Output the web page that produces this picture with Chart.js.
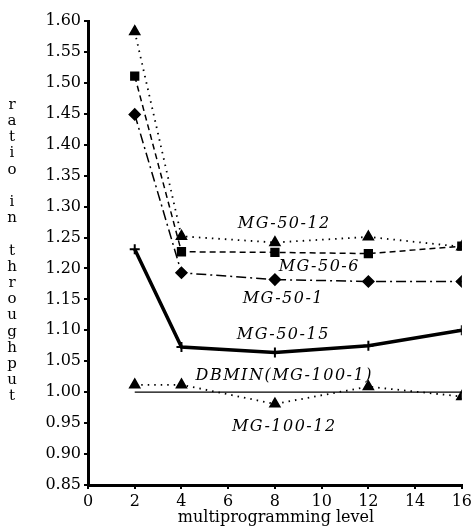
<!DOCTYPE html>
<html>
<head>
<meta charset="utf-8">
<script src="https://cdn.jsdelivr.net/npm/chart.js@4"></script>
<style>
  html, body { margin: 0; padding: 0; background: #fff; }
</style>
</head>
<body>
<canvas id="chart" width="475" height="529"></canvas>
<script>
// multiprogramming levels
var levels = [2, 4, 8, 12, 16];

// ratio in throughput per series
var mg50_12 = [1.583, 1.252, 1.242, 1.251, 1.235];
var mg50_6 = [1.511, 1.227, 1.226, 1.224, 1.236];
var mg50_1 = [1.449, 1.193, 1.182, 1.179, 1.179];
var mg50_15 = [1.231, 1.073, 1.064, 1.075, 1.100];
var dbmin = [1.0, 1.0, 1.0, 1.0, 1.0];
var mg100_12 = [1.012, 1.012, 0.981, 1.009, 0.993];

var seriesNames = ["MG-50-12", "MG-50-6", "MG-50-1", "MG-50-15", "DBMIN(MG-100-1)", "MG-100-12"];
// label anchors in data units (x level, y ratio)
var labelX = [8.4, 9.9, 8.36, 8.36, 8.4, 8.4];
var labelY = [1.272, 1.203, 1.151, 1.093, 1.027, 0.944];

var yTitle = "ratio in throughput";
var xTitle = "multiprogramming level";

function pts(vals) {
   return levels.map((x, i) => ({ x: x, y: vals[i] }));
}

var serif = "'DejaVu Serif', 'Liberation Serif', serif";

// text labels on the curves and the stacked y title
var textPlugin = {
   id: "texts",
   afterDraw(chart) {
      var ctx = chart.ctx;
      var xs = chart.scales.x, ys = chart.scales.y;
      ctx.save();
      ctx.fillStyle = "#000";
      ctx.textAlign = "center";
      ctx.textBaseline = "middle";
      ctx.font = "italic 16px " + serif;
      if ("letterSpacing" in ctx) ctx.letterSpacing = "1.5px";
      seriesNames.forEach((name, i) => {
         ctx.fillText(name, xs.getPixelForValue(labelX[i]), ys.getPixelForValue(labelY[i]));
      });
      if ("letterSpacing" in ctx) ctx.letterSpacing = "0px";
      ctx.font = "15px " + serif;
      for (var i = 0; i < yTitle.length; i++) {
         ctx.fillText(yTitle[i], 12, 105 + i * 16.2);
      }
      ctx.font = "16px " + serif;
      ctx.fillText(xTitle, 276, 518);
      ctx.restore();
   },
};

var chart = new Chart(document.getElementById("chart").getContext("2d"), {
   type: "line",
   data: {
      datasets: [
         {
            label: "MG-50-6",
            data: pts(mg50_6),
            borderColor: "#000",
            borderWidth: 1.5,
            borderDash: [6, 4],
            pointStyle: "rect",
            pointRadius: 5.5,
            pointBackgroundColor: "#000",
            pointBorderColor: "#000",
         },
         {
            label: "MG-50-12",
            data: pts(mg50_12),
            borderColor: "#000",
            borderWidth: 1.8,
            borderDash: [1.5, 5],
            pointStyle: "triangle",
            pointRadius: 5.5,
            pointBackgroundColor: "#000",
            pointBorderColor: "#000",
         },
         {
            label: "MG-50-1",
            data: pts(mg50_1),
            borderColor: "#000",
            borderWidth: 1.5,
            borderDash: [10, 4, 2, 4],
            pointStyle: "rectRot",
            pointRadius: 5.5,
            pointBackgroundColor: "#000",
            pointBorderColor: "#000",
         },
         {
            label: "MG-50-15",
            data: pts(mg50_15),
            borderColor: "#000",
            borderWidth: 3.5,
            pointStyle: "cross",
            pointRadius: 5,
            pointBorderWidth: 2,
            pointBackgroundColor: "#000",
            pointBorderColor: "#000",
         },
         {
            label: "DBMIN(MG-100-1)",
            data: pts(dbmin),
            borderColor: "#000",
            borderWidth: 1.2,
            pointRadius: 0,
         },
         {
            label: "MG-100-12",
            data: pts(mg100_12),
            borderColor: "#000",
            borderWidth: 1.8,
            borderDash: [1.5, 5],
            pointStyle: "triangle",
            pointRadius: 5.5,
            pointBackgroundColor: "#000",
            pointBorderColor: "#000",
         },
      ],
   },
   options: {
      responsive: false,
      animation: false,
      events: [],
      layout: { padding: { top: 21, right: 12, left: 0, bottom: 0 } },
      scales: {
         x: {
            type: "linear",
            min: 0,
            max: 16,
            ticks: { stepSize: 2, color: "#000", font: { family: serif, size: 16 }, padding: 3 },
            grid: { drawOnChartArea: false, drawTicks: true, tickLength: 4, color: "#000", lineWidth: 2 },
            border: { color: "#000", width: 3 },
            afterFit(scale) { scale.height = 44; },
         },
         y: {
            min: 0.85,
            max: 1.6,
            ticks: {
               stepSize: 0.05,
               color: "#000",
               font: { family: serif, size: 16 },
               padding: 3,
               callback: (v) => v.toFixed(2),
            },
            grid: { drawOnChartArea: false, drawTicks: true, tickLength: 4, color: "#000", lineWidth: 2 },
            border: { color: "#000", width: 3 },
            afterFit(scale) { scale.width = 88; },
         },
      },
      plugins: {
         legend: { display: false },
         tooltip: { enabled: false },
      },
   },
   plugins: [textPlugin],
});
</script>
</body>
</html>
